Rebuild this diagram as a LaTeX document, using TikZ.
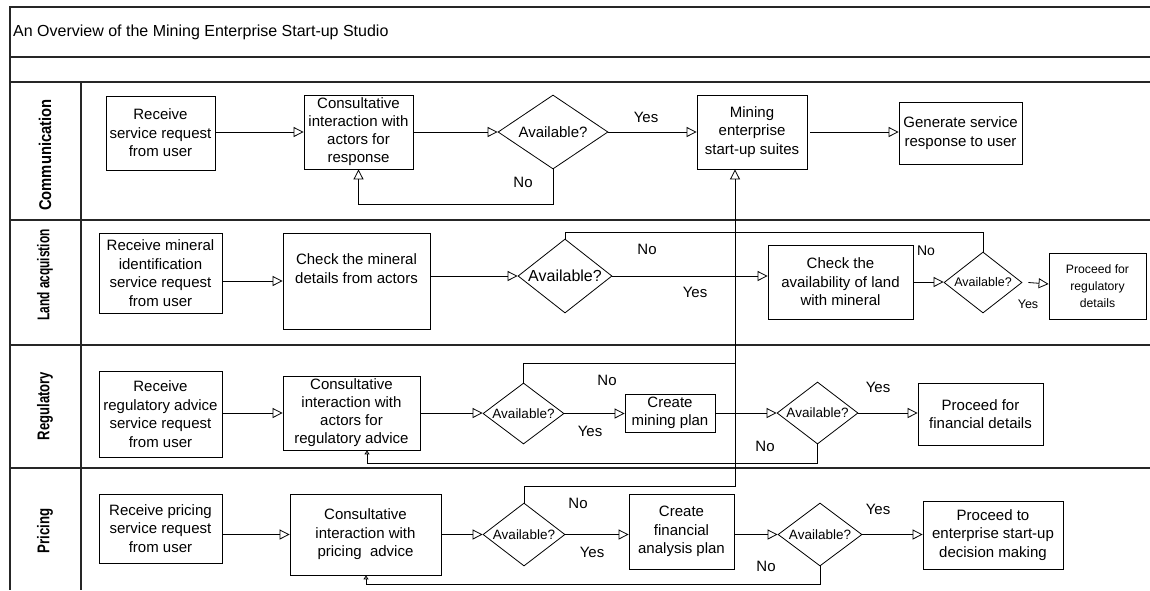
\documentclass[tikz,border=0pt]{standalone}
\usepackage{graphicx}
\usepackage{fontspec}
\setmainfont{Liberation Sans}
\usetikzlibrary{shapes.geometric,arrows.meta}
\begin{document}
\begin{tikzpicture}[x=1pt,y=-1pt,
  procbox/.style={draw, line width=0.8pt, align=center, inner sep=0pt,
    font=\fontsize{15}{18.5}\selectfont},
  decbox/.style={draw, diamond, line width=0.8pt, inner sep=0pt,
    font=\fontsize{13.5}{16}\selectfont},
  flow/.style={line width=0.8pt, -{Triangle[open,length=10pt,width=10pt]}},
  flowsmall/.style={line width=0.8pt, -{Triangle[open,length=4pt,width=5pt]}},
  plainflow/.style={line width=0.8pt},
  lbl/.style={font=\fontsize{15}{18}\selectfont, inner sep=0pt},
  lanelbl/.style={rotate=90, inner sep=0pt, font=\bfseries\fontsize{17}{20}\selectfont},
  frame/.style={line width=1.3pt, black!85}
]
\useasboundingbox (0,0) rectangle (1150,590);

% ---- pool frame and lanes ----
\draw[frame] (1150,7) -- (10,7) -- (10,590);
\draw[frame] (10,57) -- (1150,57);
\draw[frame] (10,82) -- (1150,82);
\draw[frame] (10,220) -- (1150,220);
\draw[frame] (10,345) -- (1150,345);
\draw[frame] (10,468) -- (1150,468);
\draw[frame] (81,82) -- (81,590);

\node[anchor=west, inner sep=0pt, font=\fontsize{16}{19}\selectfont] (title) at (13,32)
  {An Overview of the Mining Enterprise Start-up Studio};

% lane titles, set in a narrowed bold face
\node[lanelbl] (lcomm) at (45,155) {\scalebox{0.87}[1]{Communication}};
\node[lanelbl] (lland) at (45,275) {\scalebox{0.70}[1]{Land acquistion}};
\node[lanelbl] (lreg)  at (45,406) {\scalebox{0.77}[1]{Regulatory}};
\node[lanelbl] (lpri)  at (45,531) {\scalebox{0.78}[1]{Pricing}};

% ---- Communication lane ----
\node[procbox, minimum width=109pt, minimum height=74pt] (r1) at (160.5,133)
  {Receive\\service request\\from user};
\node[procbox, minimum width=109pt, minimum height=74pt, font=\fontsize{15}{18}\selectfont] (c1) at (358.5,132)
  {Consultative\\interaction with\\actors for\\response};
\node[decbox, minimum width=110pt, minimum height=74pt, font=\fontsize{15}{18}\selectfont] (d1) at (553,132)
  {\makebox[0pt]{Available?}};
\node[procbox, minimum width=110pt, minimum height=74pt] (m) at (752,132)
  {Mining\\enterprise\\start-up suites};
\node[procbox, minimum width=123pt, minimum height=62pt] (g) at (960.5,133)
  {Generate service\\response to user};

\draw[flow] (r1.east |- c1.west) -- (c1.west);
\draw[flow] (c1.east) -- (d1.west);
\draw[flow] (d1.east) -- (m.west);
\draw[flow] ([xshift=3pt]m.east) -- (m.east -| g.west);
\coordinate (k1) at (358.5,204);
\draw[flow] (d1.south) -- (d1.south |- k1) -- (k1) -- (c1.south);
\node[lbl] (y1) at (646,117) {Yes};
\node[lbl] (n1) at (523,182) {No};

% ---- Land acquisition lane ----
\node[procbox, minimum width=123pt, minimum height=80pt] (r2) at (160.5,273)
  {Receive mineral\\identification\\service request\\from user};
\node[procbox, minimum width=147pt, minimum height=96pt] (c2) at (356.5,281)
  {Check the mineral\\details from actors\\[6pt]};
\node[decbox, minimum width=94pt, minimum height=74pt, font=\fontsize{16}{18}\selectfont] (d2) at (565,276)
  {\makebox[0pt]{Available?}};
\node[procbox, minimum width=145pt, minimum height=74pt] (c3) at (840.5,282)
  {Check the\\availability of land\\with mineral};
\node[decbox, minimum width=78pt, minimum height=61pt, font=\fontsize{12.5}{15}\selectfont] (d3) at (983,282.5)
  {\makebox[0pt]{Available?}};
\node[procbox, minimum width=97pt, minimum height=66pt, font=\fontsize{12.2}{16.7}\selectfont] (p1) at (1097.5,286)
  {Proceed for\\regulatory\\details};

\draw[flow] (r2.east |- c2.west) -- (c2.west);
\draw[flow] (c2.east |- d2.west) -- (d2.west);
\draw[flow] (d2.east) -- (d2.east -| c3.west);
\draw[flow] (c3.east) -- (c3.east -| d3.west);
\draw[flow] ([xshift=6pt]d3.east) -- ([yshift=2pt]p1.west);
\coordinate (j1) at (565,232);
\draw[plainflow] (d2.north) -- (j1) -| (d3.north);
\node[lbl] (n2) at (647,249) {No};
\node[lbl] (y2) at (695,292) {Yes};
\node[lbl, font=\fontsize{14}{16}\selectfont] (n3) at (926,251) {No};
\node[lbl, font=\fontsize{12.5}{15}\selectfont] (y3) at (1028,304) {Yes};

% ---- Regulatory lane ----
\node[procbox, minimum width=123pt, minimum height=86pt] (r3) at (160.5,414)
  {Receive\\regulatory advice\\service request\\from user};
\node[procbox, minimum width=137pt, minimum height=74pt, font=\fontsize{15}{18}\selectfont] (c4) at (351.5,413)
  {Consultative\\interaction with\\actors for\\regulatory advice};
\node[decbox, minimum width=81pt, minimum height=61pt] (d4) at (523.5,413.5)
  {\makebox[0pt]{Available?}};
\node[procbox, minimum width=90pt, minimum height=38pt] (mp) at (670,413)
  {Create\\mining plan};
\node[decbox, minimum width=81pt, minimum height=62pt] (d5) at (817.5,413)
  {\makebox[0pt]{Available?}};
\node[procbox, minimum width=125pt, minimum height=62pt] (pf) at (980.5,414)
  {Proceed for\\financial details};

\draw[flow] (r3.east |- c4.west) -- (c4.west);
\draw[flow] (c4.east) -- (c4.east -| d4.west);
\draw[flow] (d4.east) -- (d4.east -| mp.west);
\draw[flow] (mp.east) -- (mp.east -| d5.west);
\draw[flow] (d5.east) -- (d5.east -| pf.west);
\coordinate (q1) at (367,463);
\draw[flowsmall] (d5.south) -- (d5.south |- q1) -- (q1) -- (c4.south -| q1);
\node[lbl] (n4) at (607,380) {No};
\node[lbl] (y4) at (590,431) {Yes};
\node[lbl] (n5) at (765,446) {No};
\node[lbl] (y5) at (878,387) {Yes};

% ---- Pricing lane ----
\node[procbox, minimum width=123pt, minimum height=69pt] (r4) at (160.5,528.5)
  {Receive pricing\\service request\\from user};
\node[procbox, minimum width=151pt, minimum height=81pt] (c5) at (365.5,534.5)
  {Consultative\\interaction with\\pricing\ \ advice};
\node[decbox, minimum width=82pt, minimum height=63pt] (d6) at (524,534.5)
  {\makebox[0pt]{Available?}};
\node[procbox, minimum width=105pt, minimum height=75pt] (fa) at (681.5,531.5)
  {Create\\financial\\analysis plan};
\node[decbox, minimum width=84pt, minimum height=63pt] (d7) at (820,534.5)
  {\makebox[0pt]{Available?}};
\node[procbox, minimum width=140pt, minimum height=68pt] (pd) at (993,535)
  {Proceed to\\enterprise start-up\\decision making};

\draw[flow] (r4.east |- c5.west) -- (c5.west);
\draw[flow] (c5.east) -- (c5.east -| d6.west);
\draw[flow] (d6.east) -- (d6.east -| fa.west);
\draw[flow] (fa.east |- d7.west) -- (d7.west);
\draw[flow] (d7.east) -- (d7.east -| pd.west);
\coordinate (q2) at (366,584);
\draw[flowsmall] (d7.south) -- (d7.south |- q2) -- (q2) -- (c5.south -| q2);
\node[lbl] (n6) at (578,503) {No};
\node[lbl] (y6) at (592,552) {Yes};
\node[lbl] (n7) at (766,566) {No};
\node[lbl] (y7) at (878,509) {Yes};

% ---- shared "No" returns into the start-up suites ----
\coordinate (v1) at (735,486);
\coordinate (v2) at (735,363);
\draw[plainflow] (d4.north) |- (v2);
\draw[flow] (d6.north) |- (v1) -- (m.south -| v1);
\end{tikzpicture}
\end{document}
